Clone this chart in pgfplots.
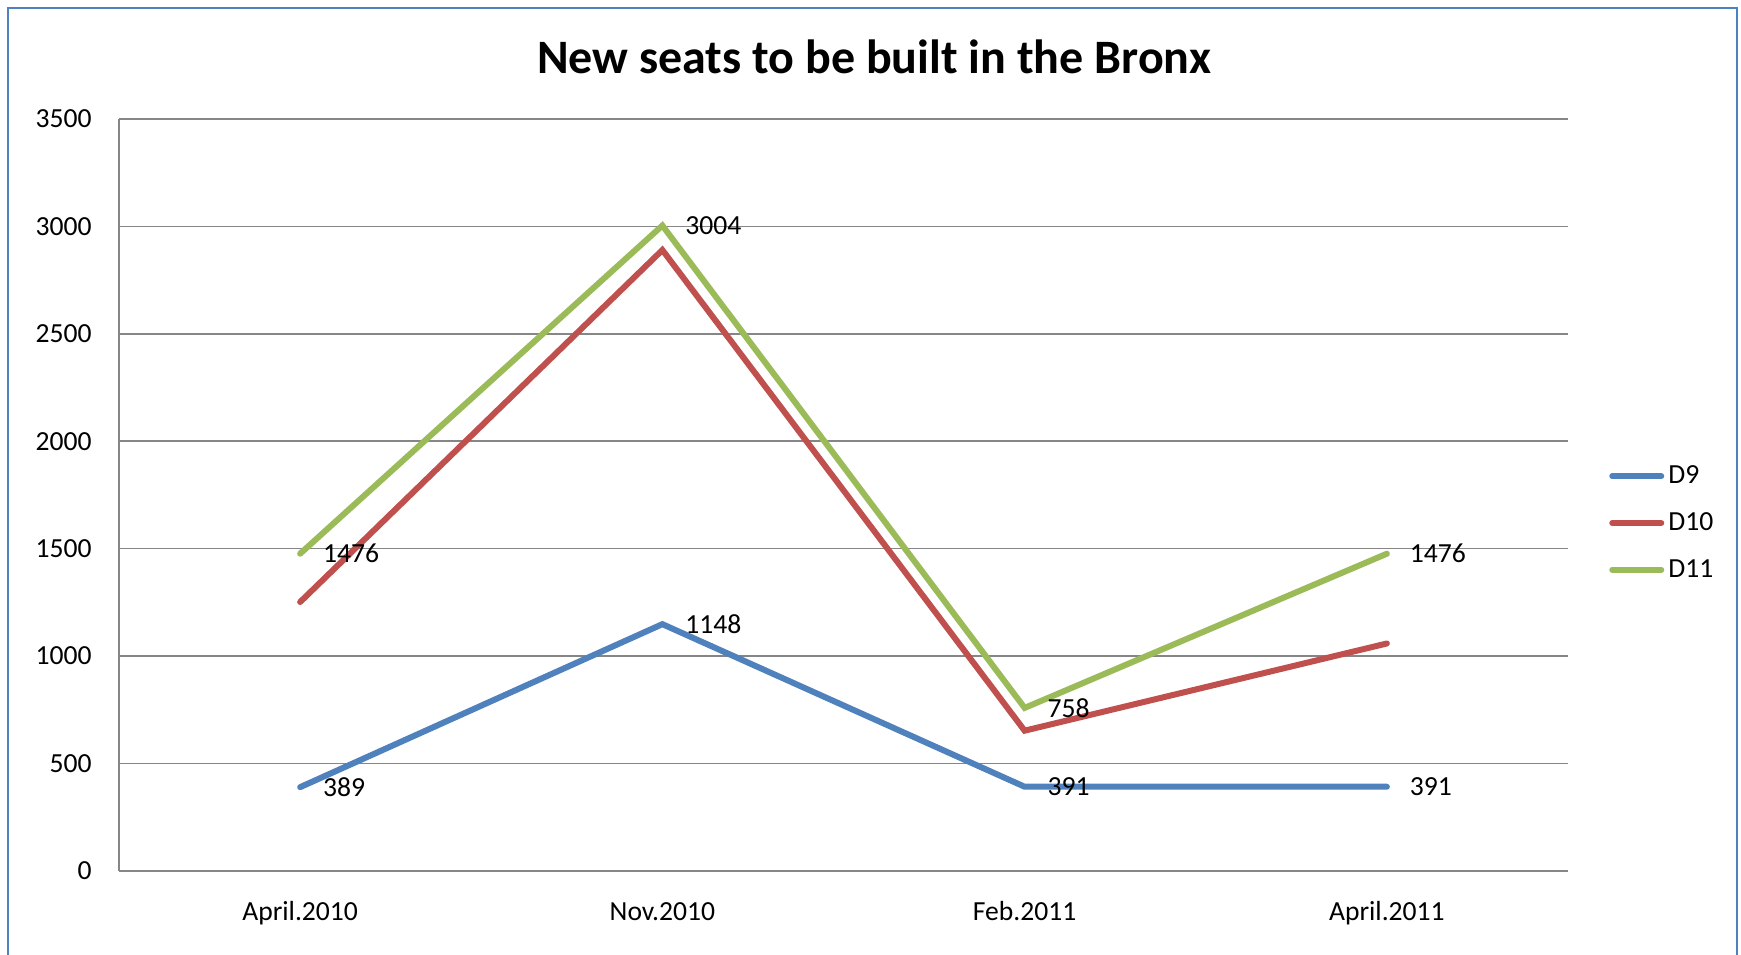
\documentclass[border=0pt]{standalone}
\usepackage{fontspec}
\setmainfont{Carlito}
\usepackage{pgfplots}
\pgfplotsset{compat=1.18}
\definecolor{cblue}{HTML}{4F81BD}
\definecolor{cred}{HTML}{C0504D}
\definecolor{cgreen}{HTML}{9BBB59}
\definecolor{gridgray}{HTML}{868686}
\definecolor{frameblue}{HTML}{4F81BD}
\newcommand{\lblfont}{\fontsize{13.8}{16}\selectfont}
\begin{document}
\begin{tikzpicture}
\useasboundingbox (0,0) rectangle (870.5pt,-477pt);
\clip (0,0) rectangle (870.5pt,-477pt);
\draw[frameblue, line width=1pt] (3.75pt,-3.75pt) rectangle (868.5pt,-500pt);
\node[anchor=base, font=\fontsize{24}{28}\selectfont\bfseries, inner sep=0pt] at (437pt,-36.7pt) {New seats to be built in the Bronx};
\begin{axis}[
  at={(59.5pt,-435.35pt)}, anchor=south west,
  width=724.5pt, height=375.85pt, scale only axis,
  xmin=-0.5, xmax=3.5, ymin=0, ymax=3500,
  xtick={0,1,2,3}, xticklabels={April.2010,Nov.2010,Feb.2011,April.2011},
  ytick={0,500,...,3500},
  axis x line*=bottom, axis y line*=left,
  axis line style={draw=gridgray, line width=0.8pt, -},
  ymajorgrids, grid style={draw=gridgray, line width=0.8pt},
  major tick length=0pt,
  tick style={draw=none},
  /pgf/number format/assume math mode=true,
  /pgf/number format/1000 sep={},
  tick label style={font=\lblfont, inner sep=0pt},
  yticklabel style={anchor=east, xshift=-13.5pt},
  xticklabel style={anchor=base, yshift=-25pt},
  legend style={at={(1.0282,0.4626)}, anchor=west, draw=none, fill=none, inner sep=0pt, row sep=12.9pt, column sep=2.1pt, font=\lblfont, nodes={inner sep=0pt}},
  legend cell align=left,
  legend image code/.code={\draw[#1, line cap=round] (0pt,0pt) -- (24.5pt,0pt);},
  clip=false,
]
\addplot[cblue, line width=3pt, line cap=round, nodes near coords,
  nodes near coords style={anchor=west, xshift=10pt, inner sep=0pt, font=\lblfont, text=black}]
  coordinates {(0,389) (1,1148) (2,391) (3,391)};
\addlegendentry{D9}
\addplot[cred, line width=3pt, line cap=round]
  coordinates {(0,1251) (1,2890) (2,652) (3,1058)};
\addlegendentry{D10}
\addplot[cgreen, line width=3pt, line cap=round, nodes near coords,
  nodes near coords style={anchor=west, xshift=10pt, inner sep=0pt, font=\lblfont, text=black}]
  coordinates {(0,1476) (1,3004) (2,758) (3,1476)};
\addlegendentry{D11}
\end{axis}
\end{tikzpicture}
\end{document}
